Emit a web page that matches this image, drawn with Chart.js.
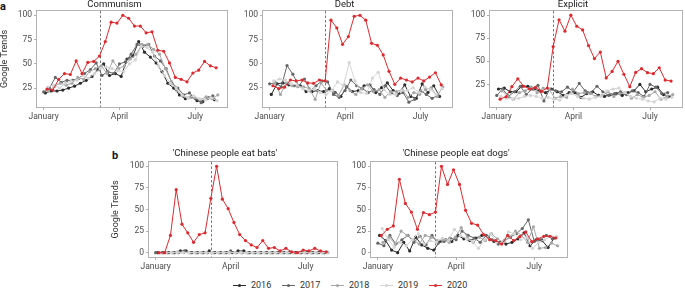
<!DOCTYPE html>
<html>
<head>
<meta charset="utf-8">
<script src="https://cdn.jsdelivr.net/npm/chart.js@4/dist/chart.umd.min.js"></script>
<style>
  body { margin: 0; background: #fff; }
  #fig { position: relative; width: 685px; height: 288px; overflow: hidden; font-family: Roboto, sans-serif; }
  #fig canvas { position: absolute; }
  .tag { position: absolute; font-weight: bold; font-size: 11px; line-height: 1; color: #111; }
  #legend { position: absolute; left: 233px; top: 279px; display: flex; font-size: 9px; color: #333; }
  #legend .item { display: flex; align-items: center; width: 49px; height: 12px; }
  #legend .key { position: relative; width: 13px; height: 12px; margin-right: 5px; }
  #legend .key i { position: absolute; left: 0; top: 5.5px; width: 13px; height: 1px; }
  #legend .key b { position: absolute; left: 5px; top: 4.5px; width: 3px; height: 3px; border-radius: 50%; }
</style>
</head>
<body>
<div id="fig">
  <div class="tag" style="left:0px;top:1px">a</div>
  <div class="tag" style="left:112px;top:150px">b</div>
  <canvas id="c0"></canvas>
  <canvas id="c1"></canvas>
  <canvas id="c2"></canvas>
  <canvas id="c3"></canvas>
  <canvas id="c4"></canvas>
  <div id="legend"></div>
</div>
<script>
// years and the day of the year of each year's first weekly point
const years = ['2016', '2017', '2018', '2019', '2020'];
const firstDay = [2, 0, 6, 5, 4];
const yearColors = ['#2b2b2b', '#666666', '#a6a6a6', '#d4d4d4', '#dd2a2f'];

// x axis ticks (day of year)
const tickDays = [0, 91, 182];
const tickNames = ['January', 'April', 'July'];
const outbreakDay = 67;

// weekly Google Trends values, one list per year
const communism = [
  [20,22,22,23,25,27,30,33,37,44,50,38,40,37,55,58,73,62,57,51,42,30,25,18,14,16,12,11,15,13],
  [21,25,36,31,33,33,35,40,44,51,38,42,40,50,52,60,70,68,70,58,53,45,30,25,18,20,14,10,14,17],
  [22,27,30,28,30,36,34,42,45,48,40,53,45,48,55,60,70,70,65,60,45,32,22,17,15,15,13,16,14,18],
  [26,28,25,30,32,33,38,35,40,45,47,45,43,42,50,54,68,67,62,48,38,30,25,18,15,17,14,13,15,12],
  [24,23,34,40,39,53,40,51.5,52.5,58,73,93,92,100,97,89,89,82,83,64,63,51,36,34,31.5,40.5,43.5,52.5,48,46]
];
const debt = [
  [18,29,30,28,27,27,21,21,22,21,24,20,16,26,21,22,27,28,20,25,30,22,19,28,16,14,29,20,27,16],
  [29,30,26,48,39,27,34,22,27,32,31,18,15,22,33,27,24,20,23,18,27,19,17,20,10,13,22,18,14,17],
  [30,18,30,27,26,26,24,13,30,22,22,17,28,22,18,24,28,21,23,15,21,21,23,15,20,18,23,25,16,26],
  [32,34,33,29,28,24,22,24,20,18,22,31,27,51,32,20,19,35,41,23,18,18,22,22,25,20,26,23,18,24],
  [27,24,25.5,33,32,33,30,29.5,33,32,95,87,70,78,99,100,95,71,69,59,42,28.5,35,33,31,35,32,36,40.5,28]
];
const explicit = [
  [20,21,17,17,23,23,20,18,16,20,17,13,16,16,11,15,17,13,12,14,15,13,16,18,25,17,20,22,14,12],
  [13,20,12,17,23,14,20,24,7,20,18,17,22,17,26,18,16,23,17,13,15,17,14,18,16,12,25,22,15,16],
  [18,13,9,16,18,22,16,21,20,10,12,11,20,15,16,15,12,13,17,12,15,16,10,14,11,13,17,9,12,14],
  [12,10,9,10,12,13,12,10,11,9,8,13,15,12,10,9,11,12,18,20,21,16,12,10,9,7,6,10,9,11],
  [9,11.6,22.5,31,23,20,21.7,17.4,21,66,95,82.6,100,88,84,67,53,60,32,39,50,36,22.5,38,42,37.7,36.6,43,29.7,28.6]
];
const bats = [
  [0,0,0,0,2,2,0,0,0,2,0,0,0,0,2,2,0,0,0,0,0,0,0,0,0,0,0,0,0,0],
  [0,0,0,0,0,2,0,0,0,0,0,0,0,2,0,0,0,0,0,0,0,0,0,0,0,0,0,0,0,0],
  [0,0,0,1,0,0,0,0,0,0,0,0,0,0,0,0,0,0,0,0,0,0,0,0,0,0,0,0,0,0],
  [0,0,0,0,0,0,0,0,0,0,0,0,0,0,0,0,0,0,0,0,0,0,0,0,0,0,0,0,0,0],
  [0,0,20,73,33,23,12,21,23,63,100,62,51,35,21,14,9,6,14,5,6,2,5,1,0,3,2,5,2,1]
];
const dogs = [
  [20,14,3,0,12,2,18,9,5,3,13,15,13,20,16,14,17,20,19,13,12,10,12,16,23,8,15,14,6,17],
  [11,8,20,10,15,20,12,19,9,20,11,13,17,15,25,20,17,12,20,15,10,14,18,22,28,38,13,15,20,16],
  [12,18,10,25,20,15,10,20,18,14,15,12,18,29,18,12,18,14,22,16,12,18,25,20,12,30,5,6,11,8],
  [28,15,6,12,8,15,22,10,14,12,17,14,27,20,16,13,5,15,22,12,12,24,22,15,18,5,12,15,19,19],
  [20,27,31,85,57,47,27,46.5,44,47,100,79,96,79,49,34,32,21,15,14,10,20,14,18.5,24,12.7,16,19,19,17]
];

const rowATicks = [25, 50, 75, 100];
const rowBTicks = [0, 25, 50, 75, 100];

// panel layout: plot frame in page pixels [left, top, right, bottom]
const panels = [
  { id: 'c0', title: 'Communism', data: communism, frame: [37, 11, 229, 107], top: 0, yW: 37, yTitle: true, yMin: 5.5, yMax: 104.5, yTicks: rowATicks },
  { id: 'c1', title: 'Debt', data: debt, frame: [263, 11, 454, 107], top: 0, yW: 28, yTitle: false, yMin: 5, yMax: 104.5, yTicks: rowATicks },
  { id: 'c2', title: 'Explicit', data: explicit, frame: [490, 11, 684, 107], top: 0, yW: 28, yTitle: false, yMin: 0.5, yMax: 104.5, yTicks: rowATicks },
  { id: 'c3', title: "'Chinese people eat bats'", data: bats, frame: [149, 162, 339, 257], top: 149, yW: 38, yTitle: true, yMin: -5, yMax: 105, yTicks: rowBTicks },
  { id: 'c4', title: "'Chinese people eat dogs'", data: dogs, frame: [371, 162, 569, 257], top: 149, yW: 28, yTitle: false, yMin: -5, yMax: 105, yTicks: rowBTicks }
];

Chart.defaults.font.family = 'Roboto, sans-serif';
Chart.defaults.color = '#4d4d4d';

const panelDecor = {
  id: 'panelDecor',
  beforeDatasetsDraw(chart) {
    const { ctx, chartArea, scales } = chart;
    const px = Math.round(scales.x.getPixelForValue(outbreakDay)) + 0.5;
    ctx.save();
    ctx.strokeStyle = '#666';
    ctx.lineWidth = 0.9;
    ctx.setLineDash([2.5, 2]);
    ctx.beginPath();
    ctx.moveTo(px, chartArea.top);
    ctx.lineTo(px, chartArea.bottom);
    ctx.stroke();
    ctx.restore();
  },
  afterDatasetsDraw(chart) {
    const { ctx, chartArea } = chart;
    ctx.save();
    ctx.strokeStyle = '#b3b3b3';
    ctx.lineWidth = 1;
    ctx.strokeRect(Math.round(chartArea.left) - 0.5, Math.round(chartArea.top) - 0.5,
      Math.round(chartArea.right - chartArea.left) + 1, Math.round(chartArea.bottom - chartArea.top) + 1);
    ctx.restore();
  }
};

const X_H = 18;
const TITLE_FS = 9.5;

panels.forEach(p => {
  const [fl, ft, fr, fb] = p.frame;
  const canvas = document.getElementById(p.id);
  const w = p.yW + (fr - fl) + 2;
  const h = (fb - p.top) + X_H;
  canvas.width = w;
  canvas.height = h;
  canvas.style.left = (fl - p.yW) + 'px';
  canvas.style.top = p.top + 'px';

  const datasets = years.map((yr, j) => ({
    label: yr,
    data: p.data[j].map((v, i) => ({ x: firstDay[j] + 7 * i, y: v })),
    borderColor: yearColors[j],
    backgroundColor: yearColors[j],
    borderWidth: 1,
    pointRadius: 1.6,
    pointBorderWidth: 0,
    tension: 0,
    order: years.length - j
  }));

  new Chart(canvas, {
    type: 'line',
    data: { datasets },
    plugins: [panelDecor],
    options: {
      responsive: false,
      animation: false,
      devicePixelRatio: 1,
      layout: { padding: { left: 0, right: 2, top: 0, bottom: 0 } },
      plugins: {
        legend: { display: false },
        tooltip: { enabled: false },
        title: {
          display: true,
          text: p.title,
          color: '#1a1a1a',
          font: { size: TITLE_FS, weight: 'normal', lineHeight: 1 },
          padding: { top: 0, bottom: (ft - p.top) - TITLE_FS }
        }
      },
      scales: {
        x: {
          type: 'linear',
          min: -8,
          max: 220,
          afterBuildTicks: s => { s.ticks = tickDays.map(v => ({ value: v })); },
          afterFit: s => { s.height = X_H; },
          ticks: {
            autoSkip: false,
            maxRotation: 0,
            padding: 2,
            font: { size: 8.5 },
            callback: v => tickNames[tickDays.indexOf(v)]
          },
          grid: { display: true, drawOnChartArea: false, tickLength: 3, color: '#999', lineWidth: 0.8 },
          border: { display: false }
        },
        y: {
          min: p.yMin,
          max: p.yMax,
          afterBuildTicks: s => { s.ticks = p.yTicks.map(v => ({ value: v })); },
          afterFit: s => { s.width = p.yW; },
          ticks: { padding: 2, font: { size: 8.5 } },
          grid: { display: true, drawOnChartArea: false, tickLength: 3, color: '#999', lineWidth: 0.8 },
          border: { display: false },
          title: {
            display: p.yTitle,
            text: 'Google Trends',
            color: '#333',
            padding: 0,
            font: { size: 9, lineHeight: 1 }
          }
        }
      }
    }
  });
});

// shared legend
const legend = document.getElementById('legend');
years.forEach((yr, j) => {
  const item = document.createElement('div');
  item.className = 'item';
  item.innerHTML = '<span class="key"><i style="background:' + yearColors[j] + '"></i><b style="background:' + yearColors[j] + '"></b></span><span>' + yr + '</span>';
  legend.appendChild(item);
});
</script>
</body>
</html>
